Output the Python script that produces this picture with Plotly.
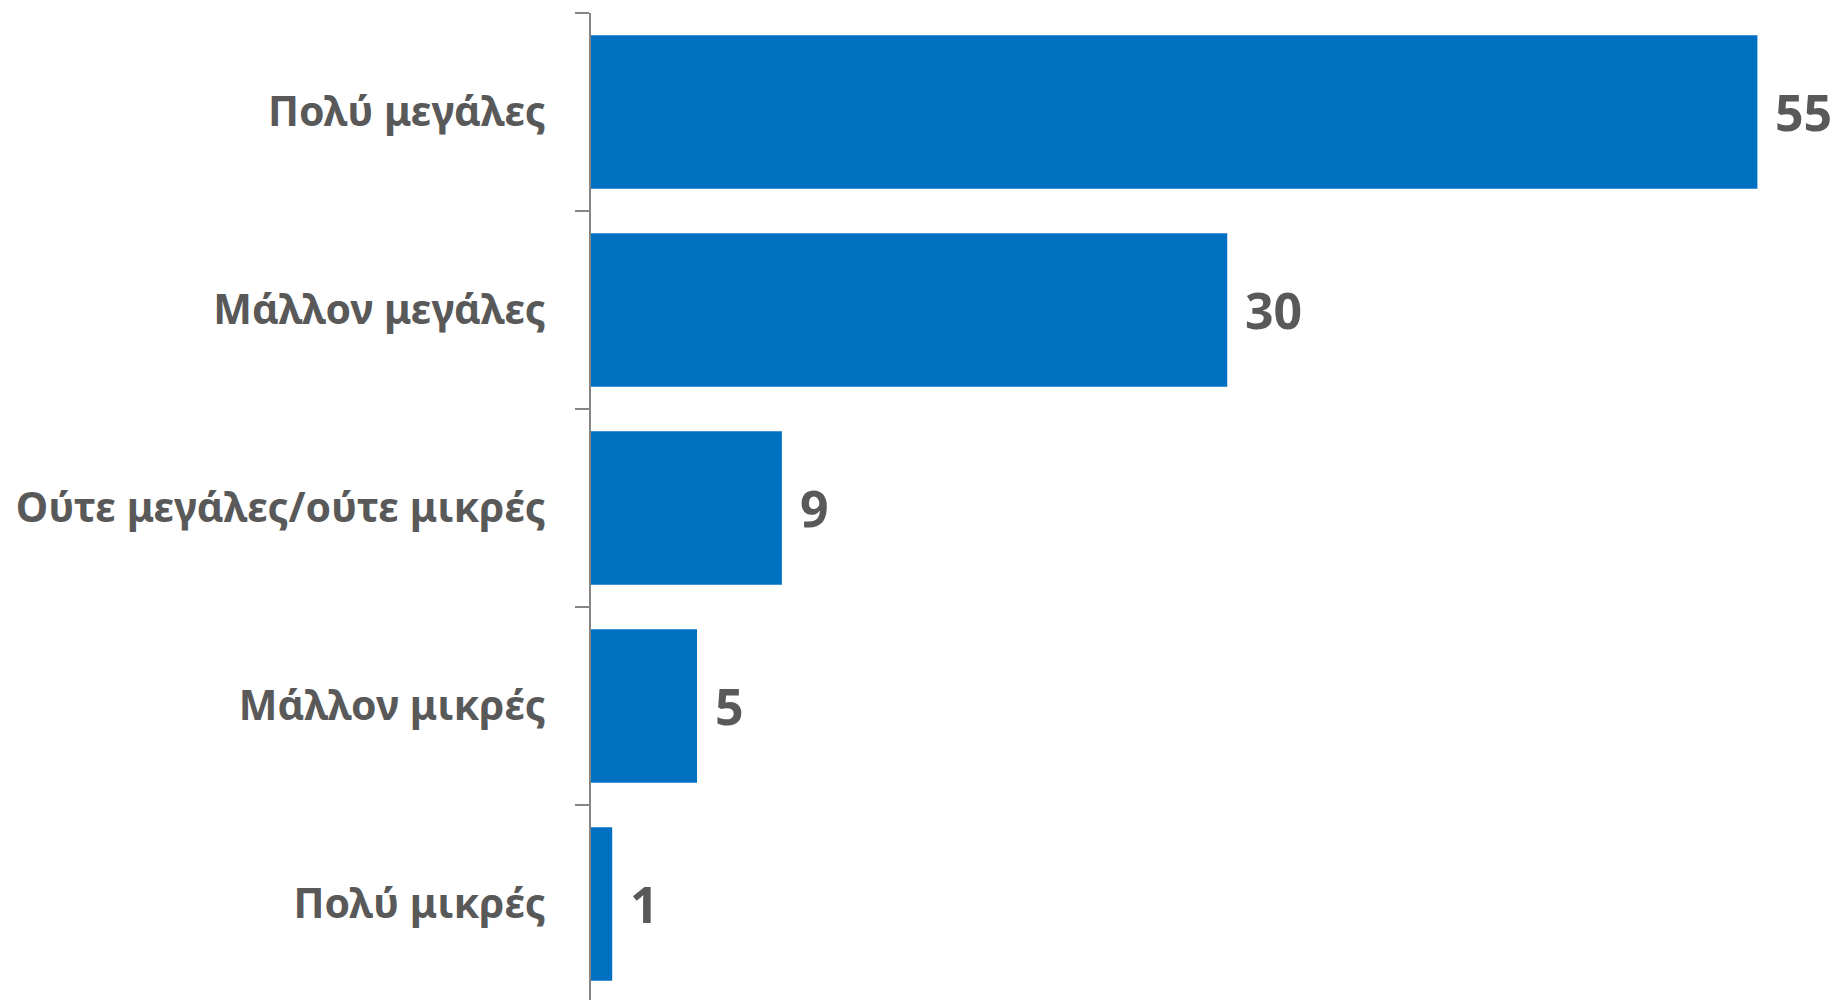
import plotly.graph_objects as go

categories = ["Πολύ μεγάλες", "Μάλλον μεγάλες", "Ούτε μεγάλες/ούτε μικρές", "Μάλλον μικρές", "Πολύ μικρές"]
values = [55, 30, 9, 5, 1]

BAR = "#0070C0"
TXT = "#595959"
AX = "#868686"
FONT = "Noto Sans"

fig = go.Figure(go.Bar(
    x=values, y=categories, orientation="h",
    marker=dict(color=BAR, line=dict(width=0)),
    width=0.776, hoverinfo="skip",
))

annotations = [
    dict(x=v, y=c, xref="x", yref="y", text=str(v), showarrow=False,
         xanchor="left", yanchor="middle", xshift=16,
         font=dict(family=FONT, size=50, color=TXT, weight="bold"))
    for c, v in zip(categories, values)
]

fig.update_layout(
    width=1838, height=1000,
    margin=dict(l=591, r=0, t=13, b=0),
    paper_bgcolor="white", plot_bgcolor="white",
    showlegend=False,
    annotations=annotations,
    xaxis=dict(range=[0, 58.8], visible=False, fixedrange=True),
    yaxis=dict(
        type="category", categoryorder="array", categoryarray=categories,
        range=[4.485, -0.5],
        showline=True, linecolor=AX, linewidth=2,
        ticks="outside", ticklen=14, tickwidth=2, tickcolor=AX,
        tickson="boundaries", ticklabelstandoff=35,
        tickfont=dict(family=FONT, size=41, color=TXT, weight="bold"),
        showgrid=False, zeroline=False, fixedrange=True,
    ),
)

fig.write_html(
    "out.html",
    config={"displayModeBar": False},
    post_script="document.body.style.margin='0';document.body.style.overflow='hidden';",
)
